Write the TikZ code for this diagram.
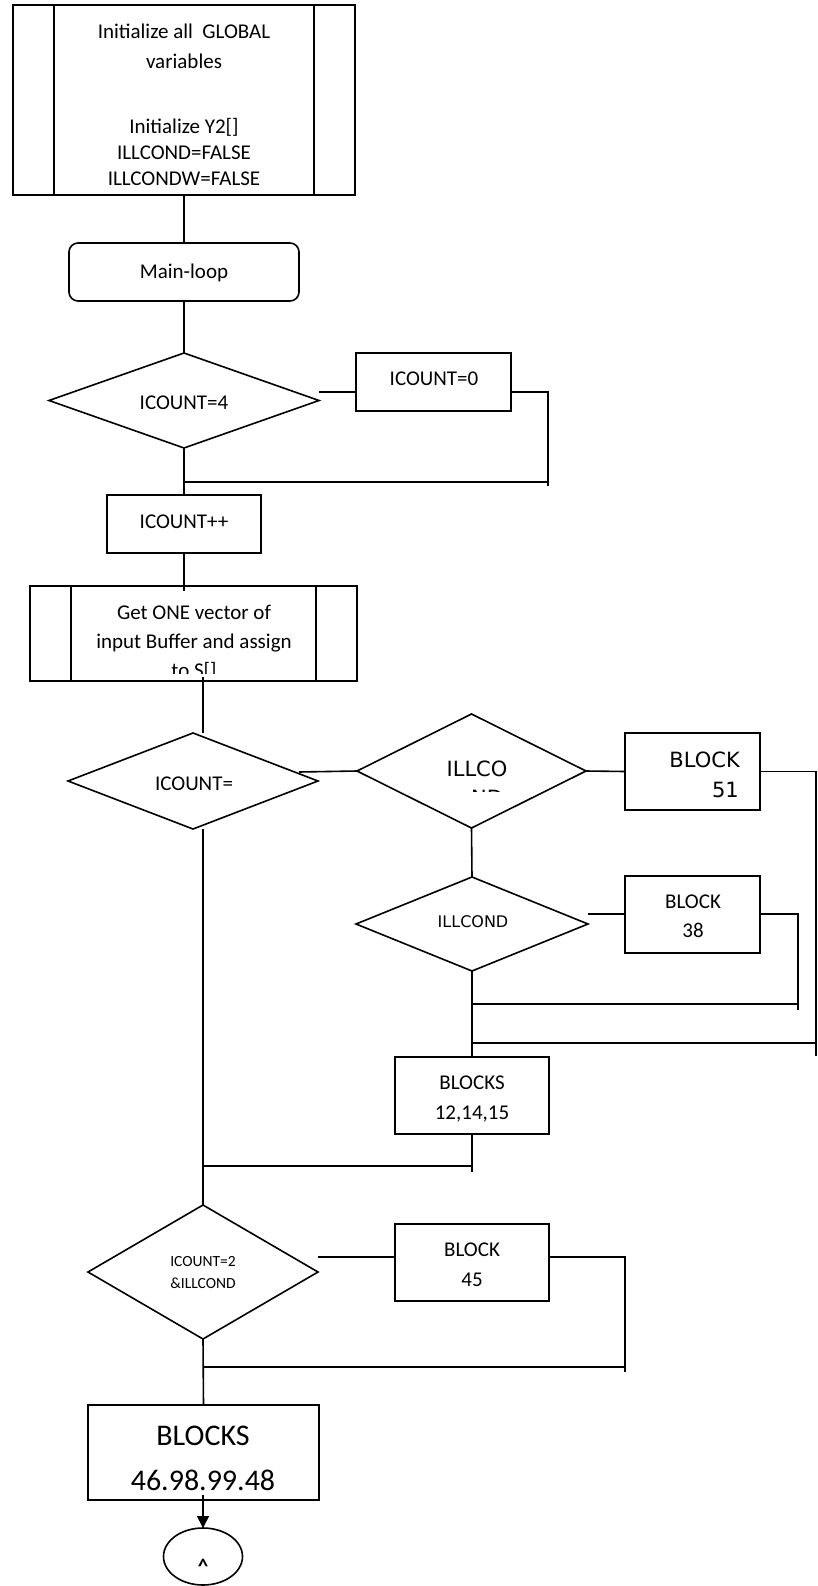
\documentclass[tikz,border=0pt]{standalone}
\usepackage{fontspec}
\setmainfont{Carlito}
\newfontfamily\dv{DejaVu Sans}
\usetikzlibrary{shapes.geometric,arrows.meta}
\begin{document}
\begin{tikzpicture}[x=1pt,y=-1pt,
  conn/.style={line width=1.6pt},
  box/.style={draw,rectangle,inner sep=0pt,outer sep=0pt,line width=1.6pt},
  dia/.style={draw,diamond,inner sep=0pt,outer sep=0pt,line width=1.6pt},
  txt/.style={inner sep=0pt,anchor=base,font=\fontsize{21}{25}\selectfont},
  rtxt/.style={inner sep=0pt,anchor=base east,font=\dv\fontsize{21}{25}\selectfont},
  dtxt/.style={inner sep=0pt,anchor=base,font=\dv\fontsize{21}{25}\selectfont},
  stxt/.style={inner sep=0pt,anchor=base,font=\fontsize{15.5}{19}\selectfont},
  btxt/.style={inner sep=0pt,anchor=base,font=\fontsize{30}{36}\selectfont}]
\useasboundingbox (0,0) rectangle (817,1586);

% initialization box
\node[box,minimum width=342pt,minimum height=190pt] (init) at (184,100) {};
\draw[conn] (54,5) -- (54,195);
\draw[conn] (314,5) -- (314,195);
\node[txt] (t1) at (184,39) {Initialize all\ \ GLOBAL};
\node[txt] (t2) at (184,69) {variables};
\node[txt] (t3) at (184,134) {Initialize Y2[]};
\node[txt] (t4) at (184,160) {ILLCOND=FALSE};
\node[txt] (t5) at (184,186) {ILLCONDW=FALSE};

% main loop
\node[box,rounded corners=9pt,minimum width=230pt,minimum height=58pt] (ml) at (184,272) {};
\node[txt] (tml) at (184,279) {Main-loop};
\draw[conn] (init.south) -- (ml.north);

% ICOUNT=4
\node[dia,minimum width=270pt,minimum height=95pt] (d1) at (184,400.5) {};
\node[txt] (td1) at (184,409) {ICOUNT=4};
\draw[conn] (ml.south) -- (d1.north);

\node[box,minimum width=155pt,minimum height=58pt] (b0) at (433.5,382) {};
\node[txt] (tb0) at (434,385) {ICOUNT=0};
\coordinate (c1a) at (319,392);
\coordinate (c1b) at (548,486);
\draw[conn] (c1a) -- (c1a -| b0.west);
\draw[conn] (b0.east |- c1a) -- (c1a -| c1b) -- (c1b);
\coordinate (j1) at (184,482);
\draw[conn] (j1) -- (j1 -| c1b);

% ICOUNT++
\node[box,minimum width=154pt,minimum height=58pt] (inc) at (184,524) {};
\node[txt] (tinc) at (184,528) {ICOUNT++};
\draw[conn] (d1.south) -- (inc.north);

% Get ONE vector
\node[box,minimum width=327pt,minimum height=95pt] (get) at (193.5,633.5) {};
\draw[conn] (71,586) -- (71,681);
\draw[conn] (316,586) -- (316,681);
\node[txt] (tg1) at (194,619) {Get ONE vector of};
\node[txt] (tg2) at (194,648) {input Buffer and assign};
\begin{scope}
  \clip (72,600) rectangle (315,673);
  \node[txt] (tg3) at (194,677) {to S[]};
\end{scope}
\coordinate (g0) at (184,591);
\draw[conn] (inc.south) -- (g0);

% ICOUNT=
\node[dia,minimum width=250pt,minimum height=96pt] (d2) at (193,781) {};
\node[txt] (td2) at (194,790) {ICOUNT=};
\coordinate (g1) at (203,677);
\draw[conn] (g1) -- (g1 |- d2.north);

% ILLCO
\node[dia,minimum width=229pt,minimum height=114pt] (d3) at (471.5,771) {};
\node[dtxt] (td3) at (477,776) {ILLCO};
\begin{scope}
  \clip (440,782) rectangle (530,791);
  \node[dtxt] (td3b) at (487,805) {ND};
\end{scope}
\coordinate (c2) at (299,772);
\draw[conn] (c2) -- (d3.west);

% BLOCK 51
\node[box,minimum width=135pt,minimum height=77pt] (b51) at (692.5,771.5) {};
\node[rtxt] (tb51a) at (740,767) {BLOCK};
\node[rtxt] (tb51b) at (739,797) {51};
\draw[conn] (d3.east) -- (b51.west);
\coordinate (c3) at (816,1056);
\draw[conn] (b51.east) -- (b51.east -| c3) -- (c3);
\coordinate (j3) at (472,1043);
\draw[conn] (j3) -- (j3 -| c3);

% ILLCOND
\node[dia,minimum width=232pt,minimum height=94pt] (d5) at (472,924) {};
\node[inner sep=0pt,anchor=base,font=\dv\fontsize{16}{19}\selectfont] (td5) at (473,927) {ILLCOND};
\draw[conn] (d3.south) -- (d5.north);

% BLOCK 38
\node[box,minimum width=135pt,minimum height=77pt] (b38) at (692.5,914.5) {};
\node[txt] (tb38a) at (693,908) {BLOCK};
\node[txt] (tb38b) at (693,937) {38};
\coordinate (c4) at (588,914);
\draw[conn] (c4) -- (c4 -| b38.west);
\coordinate (c5) at (798,1010);
\draw[conn] (b38.east |- c4) -- (c4 -| c5) -- (c5);
\coordinate (j4) at (472,1004);
\draw[conn] (j4) -- (j4 -| c5);

% BLOCKS 12,14,15
\node[box,minimum width=154pt,minimum height=77pt] (b12) at (472,1095.5) {};
\node[txt] (tb12a) at (472,1089) {BLOCKS};
\node[txt] (tb12b) at (472,1119) {12,14,15};
\draw[conn] (d5.south) -- (b12.north);
\coordinate (c6) at (472,1172);
\draw[conn] (b12.south) -- (c6);
\coordinate (j5) at (203,1166);
\draw[conn] (j5) -- (j5 -| c6);

% ICOUNT=2 & ILLCOND
\node[dia,minimum width=230pt,minimum height=134pt] (d6) at (203,1272) {};
\node[stxt] (td6a) at (203,1266) {ICOUNT=2};
\node[stxt] (td6b) at (203,1288) {\&ILLCOND};
\draw[conn] (g1 |- d2.south) -- (d6.north);

% BLOCK 45
\node[box,minimum width=154pt,minimum height=77pt] (b45) at (472,1262.5) {};
\node[txt] (tb45a) at (472,1256) {BLOCK};
\node[txt] (tb45b) at (472,1286) {45};
\coordinate (c7) at (318,1257);
\draw[conn] (c7) -- (c7 -| b45.west);
\coordinate (c8) at (625,1372);
\draw[conn] (b45.east |- c7) -- (c7 -| c8) -- (c8);
\coordinate (j6) at (203,1367);
\draw[conn] (j6) -- (j6 -| c8);

% BLOCKS 46.98.99.48
\node[box,minimum width=231pt,minimum height=95pt] (bf) at (203.5,1452.5) {};
\node[btxt] (tbfa) at (203,1445) {BLOCKS};
\node[btxt] (tbfb) at (203,1490) {46.98.99.48};
\draw[conn] (d6.south) -- (bf.north);

% end connector
\node[draw,ellipse,inner sep=0pt,outer sep=0pt,line width=1.6pt,minimum width=79pt,minimum height=57pt] (fin) at (203,1556.5) {};
\node[inner sep=0pt,font=\bfseries\fontsize{21}{25}\selectfont] (tfin) at (203,1566) {\textasciicircum};
\coordinate (a1) at (203,1495);
\draw[conn,-{Triangle[length=12pt,width=12pt]}] (a1) -- (fin.north);
\end{tikzpicture}
\end{document}
